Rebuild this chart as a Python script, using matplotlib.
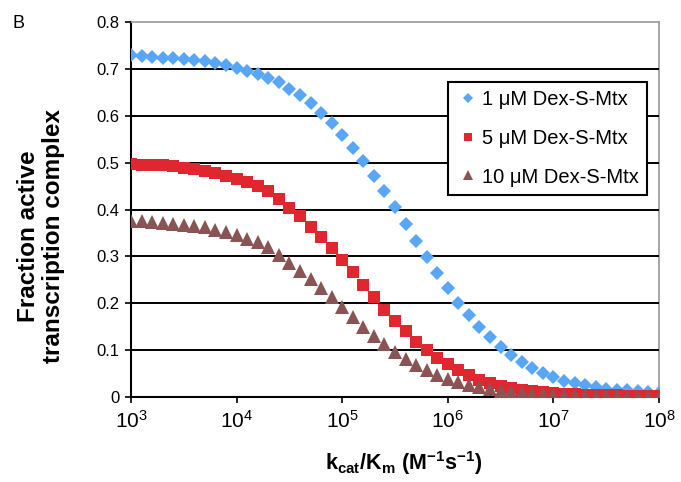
import matplotlib
matplotlib.use("Agg")
import matplotlib.pyplot as plt
from matplotlib.ticker import FixedLocator, FixedFormatter, NullLocator

plt.rcParams['font.family'] = ['Liberation Sans', 'DejaVu Sans']
plt.rcParams['mathtext.fontset'] = 'custom'
plt.rcParams['mathtext.rm'] = 'Liberation Sans'
plt.rcParams['mathtext.it'] = 'Liberation Sans:italic'
plt.rcParams['mathtext.bf'] = 'Liberation Sans:bold'
plt.rcParams['mathtext.sf'] = 'Liberation Sans'

# ---- data ----
log10_kcat_km = [3.0, 3.1, 3.2, 3.3, 3.4, 3.5, 3.6, 3.7, 3.8, 3.9,
                 4.0, 4.1, 4.2, 4.3, 4.4, 4.5, 4.6, 4.7, 4.8, 4.9,
                 5.0, 5.1, 5.2, 5.3, 5.4, 5.5, 5.6, 5.7, 5.8, 5.9,
                 6.0, 6.1, 6.2, 6.3, 6.4, 6.5, 6.6, 6.7, 6.8, 6.9,
                 7.0, 7.1, 7.2, 7.3, 7.4, 7.5, 7.6, 7.7, 7.8, 7.9, 8.0]

dex_1uM = [0.729, 0.727, 0.726, 0.724, 0.723, 0.722, 0.720, 0.716, 0.713, 0.708,
           0.701, 0.696, 0.689, 0.681, 0.671, 0.658, 0.644, 0.627, 0.606, 0.585,
           0.559, 0.532, 0.503, 0.471, 0.439, 0.406, 0.369, 0.333, 0.298, 0.265,
           0.232, 0.200, 0.175, 0.150, 0.127, 0.107, 0.090, 0.075, 0.062, 0.051,
           0.042, 0.034, 0.029, 0.025, 0.021, 0.018, 0.016, 0.014, 0.012, 0.010, 0.009]

dex_5uM = [0.497, 0.496, 0.495, 0.494, 0.492, 0.489, 0.486, 0.482, 0.477, 0.471,
           0.465, 0.458, 0.450, 0.439, 0.423, 0.404, 0.386, 0.363, 0.341, 0.317,
           0.292, 0.267, 0.239, 0.213, 0.186, 0.163, 0.141, 0.118, 0.100, 0.083,
           0.070, 0.058, 0.047, 0.037, 0.030, 0.024, 0.019, 0.015, 0.012, 0.010,
           0.008, 0.007, 0.006, 0.005, 0.005, 0.004, 0.004, 0.003, 0.003, 0.003, 0.002]

dex_10uM = [0.376, 0.375, 0.374, 0.372, 0.370, 0.367, 0.365, 0.362, 0.357, 0.352,
            0.345, 0.338, 0.330, 0.320, 0.303, 0.285, 0.269, 0.251, 0.232, 0.213,
            0.191, 0.171, 0.150, 0.131, 0.113, 0.096, 0.081, 0.068, 0.057, 0.047,
            0.039, 0.032, 0.026, 0.021, 0.017, 0.013, 0.011, 0.009, 0.007, 0.006,
            0.005, 0.004, 0.003, 0.003, 0.002, 0.002, 0.002, 0.001, 0.001, 0.001, 0.001]

series_labels = ['1 \u03bcM Dex-S-Mtx', '5 \u03bcM Dex-S-Mtx', '10 \u03bcM Dex-S-Mtx']

x_ticks = [1e3, 1e4, 1e5, 1e6, 1e7, 1e8]
x_tick_labels = [r'$10^{3}$', r'$10^{4}$', r'$10^{5}$', r'$10^{6}$', r'$10^{7}$', r'$10^{8}$']
y_ticks = [0, 0.1, 0.2, 0.3, 0.4, 0.5, 0.6, 0.7, 0.8]
y_tick_labels = ['0', '0.1', '0.2', '0.3', '0.4', '0.5', '0.6', '0.7', '0.8']

x_vals = [10 ** e for e in log10_kcat_km]

# ---- figure ----
fig = plt.figure(figsize=(6.81, 4.82), dpi=100)
ax = fig.add_axes([131/681, 1-397/482, (659-131)/681, (397-22)/482])

ax.plot(x_vals, dex_1uM, linestyle='none', marker='D', markersize=7.2,
        color='#58A6F7', markeredgewidth=0, label=series_labels[0], zorder=3)
ax.plot(x_vals, dex_5uM, linestyle='none', marker='s', markersize=8.8,
        color='#E0262E', markeredgewidth=0, label=series_labels[1], zorder=3)
ax.plot(x_vals, dex_10uM, linestyle='none', marker='^', markersize=9.5,
        color='#8A5454', markeredgewidth=0, label=series_labels[2], zorder=3)

ax.set_xscale('log')
ax.set_xlim(1e3, 1e8)
ax.set_ylim(0, 0.8)

ax.xaxis.set_major_locator(FixedLocator(x_ticks))
ax.xaxis.set_major_formatter(FixedFormatter(x_tick_labels))
ax.xaxis.set_minor_locator(NullLocator())
ax.yaxis.set_major_locator(FixedLocator(y_ticks))
ax.yaxis.set_major_formatter(FixedFormatter(y_tick_labels))

ax.tick_params(axis='x', direction='out', length=4.5, width=1.2, labelsize=15, pad=5, color='black')
ax.tick_params(axis='y', direction='out', length=4.5, width=1.2, labelsize=12, pad=4, color='black')

ax.yaxis.grid(True, color='black', linewidth=1.4)
ax.set_axisbelow(False)
gl = ax.yaxis.get_gridlines()
gl[0].set_visible(False)
gl[-1].set_visible(False)

for s in ['left', 'bottom']:
    ax.spines[s].set_color('black')
    ax.spines[s].set_linewidth(1.5)
for s in ['top', 'right']:
    ax.spines[s].set_color('#A0A0A0')
    ax.spines[s].set_linewidth(1.3)

leg = ax.legend(loc='upper right', bbox_to_anchor=(0.978, 0.84), borderaxespad=0,
                fontsize=14.5, frameon=True, fancybox=False, framealpha=1,
                edgecolor='black', labelspacing=0.98, borderpad=0.4,
                handlelength=1.2, handletextpad=0.1, markerscale=0.7)
leg.get_frame().set_linewidth(1.5)
leg.set_zorder(5)

fig.text(41/681, 1-236/482, 'Fraction active\ntranscription complex', rotation=90,
         fontsize=17.5, fontweight='bold', ha='center', va='center',
         multialignment='center', linespacing=1.15)
fig.text(404/681, 1-463/482, r'$\mathbf{k_{cat}/K_{m}\ (M^{-1}s^{-1})}$',
         fontsize=15.5, ha='center', va='center')
fig.text(13/681, 1-23.5/482, 'B', fontsize=13, ha='left', va='center')

fig.savefig('out.png', dpi=100)
